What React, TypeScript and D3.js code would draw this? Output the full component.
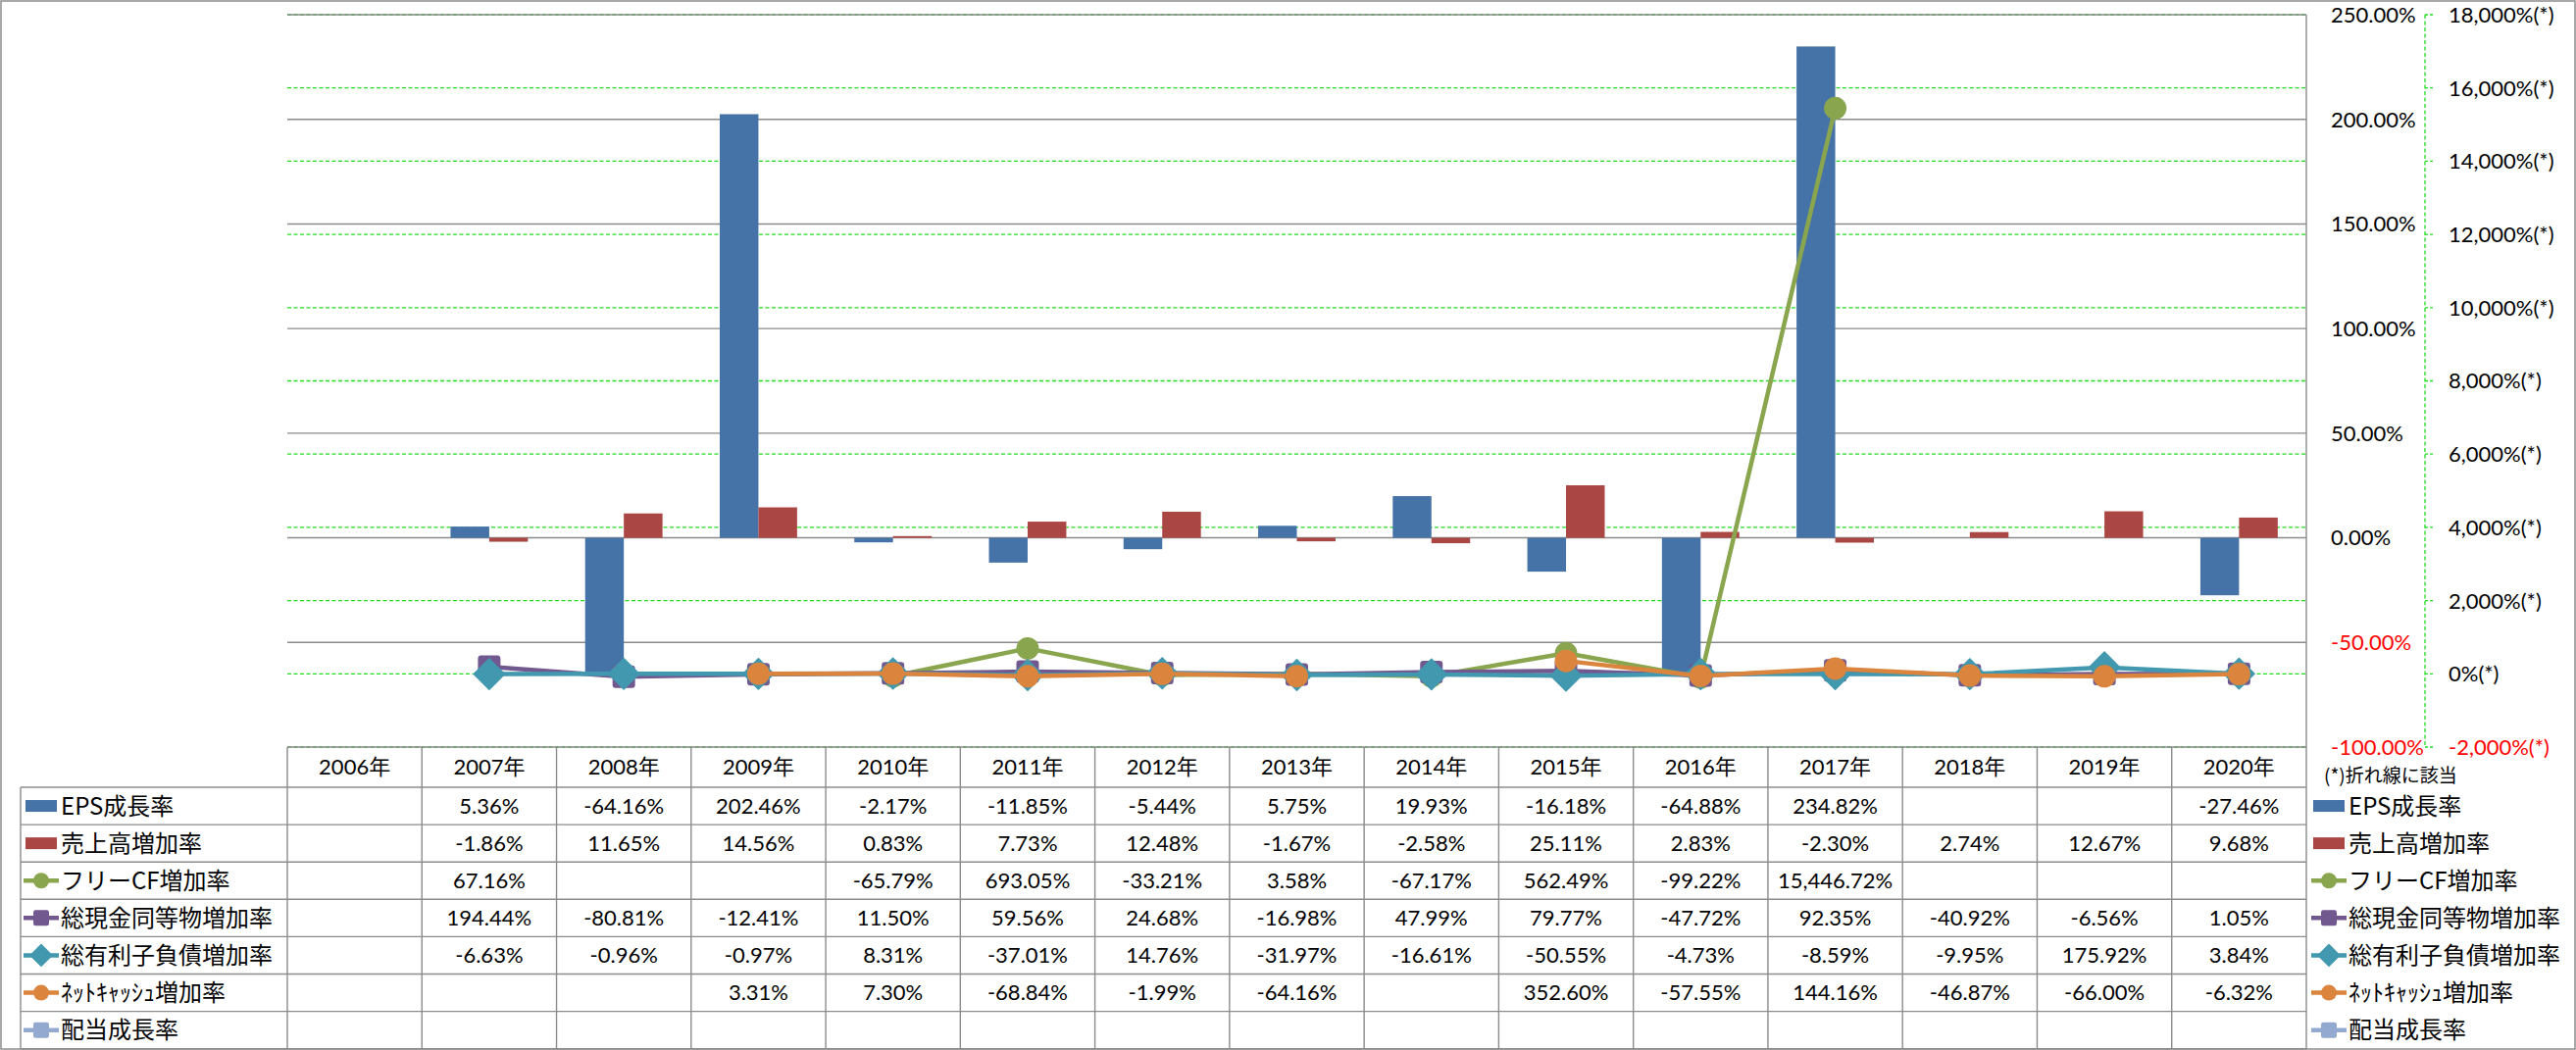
import React, { useRef, useEffect } from "react";
import * as d3 from "d3";

// categories
const years = [
  "2006年", "2007年", "2008年", "2009年", "2010年", "2011年", "2012年", "2013年",
  "2014年", "2015年", "2016年", "2017年", "2018年", "2019年", "2020年",
];

// bar series (left/primary axis, %)
const epsGrowth = [null, 5.36, -64.16, 202.46, -2.17, -11.85, -5.44, 5.75, 19.93, -16.18, -64.88, 234.82, null, null, -27.46];
const salesGrowth = [null, -1.86, 11.65, 14.56, 0.83, 7.73, 12.48, -1.67, -2.58, 25.11, 2.83, -2.3, 2.74, 12.67, 9.68];

// line series (secondary axis, %)
const fcfGrowth = [null, 67.16, null, null, -65.79, 693.05, -33.21, 3.58, -67.17, 562.49, -99.22, 15446.72, null, null, null];
const cashGrowth = [null, 194.44, -80.81, -12.41, 11.5, 59.56, 24.68, -16.98, 47.99, 79.77, -47.72, 92.35, -40.92, -6.56, 1.05];
const debtGrowth = [null, -6.63, -0.96, -0.97, 8.31, -37.01, 14.76, -31.97, -16.61, -50.55, -4.73, -8.59, -9.95, 175.92, 3.84];
const netCashGrowth = [null, null, null, 3.31, 7.3, -68.84, -1.99, -64.16, null, 352.6, -57.55, 144.16, -46.87, -66.0, -6.32];
const dividendGrowth = [null, null, null, null, null, null, null, null, null, null, null, null, null, null, null];

// axis ticks
const primaryTicks = [-100, -50, 0, 50, 100, 150, 200, 250];
const secondaryTicks = [-2000, 0, 2000, 4000, 6000, 8000, 10000, 12000, 14000, 16000, 18000];

const seriesNames = ["EPS成長率", "売上高増加率", "フリーCF増加率", "総現金同等物増加率", "総有利子負債増加率", "ﾈｯﾄｷｬｯｼｭ増加率", "配当成長率"];
const noteText = "(*)折れ線に該当";

type Kind = "bar" | "circle" | "square" | "diamond";

const FONT = "'Noto Sans CJK JP', 'Noto Sans', sans-serif";
const NUM_FONT = "Lato, 'Noto Sans CJK JP', sans-serif";

export default function App() {
  const svgRef = useRef<SVGSVGElement>(null);

  useEffect(() => {
    const width = 2627;
    const height = 1071;
    const svg = d3.select(svgRef.current);
    svg.selectAll("*").remove();

    const plot = { left: 293, right: 2352, top: 15, bottom: 762 };
    const headerBottom = 803;
    const rowH = 38.1;

    const series = [
      { name: seriesNames[0], values: epsGrowth, color: "#4572A7", kind: "bar" as Kind },
      { name: seriesNames[1], values: salesGrowth, color: "#AA4643", kind: "bar" as Kind },
      { name: seriesNames[2], values: fcfGrowth, color: "#89A54E", kind: "circle" as Kind },
      { name: seriesNames[3], values: cashGrowth, color: "#71588F", kind: "square" as Kind },
      { name: seriesNames[4], values: debtGrowth, color: "#4198AF", kind: "diamond" as Kind },
      { name: seriesNames[5], values: netCashGrowth, color: "#DB843D", kind: "circle" as Kind },
      { name: seriesNames[6], values: dividendGrowth, color: "#93A9CF", kind: "square" as Kind },
    ];

    const x = d3.scaleBand<string>().domain(years).range([plot.left, plot.right]);
    const xInner = d3.scaleBand<string>().domain(["eps", "sales"]).range([0, x.bandwidth()]).paddingOuter(0.74);
    const y = d3.scaleLinear().domain([-100, 250]).range([plot.bottom, plot.top]);
    const y2 = d3.scaleLinear().domain([-2000, 18000]).range([plot.bottom, plot.top]);

    const loc = d3.formatLocale({ decimal: ".", thousands: ",", grouping: [3], currency: ["", ""], minus: "-" });
    const fmtCell = loc.format(",.2f");
    const fmtPrimary = loc.format(".2f");
    const fmtSecondary = loc.format(",.0f");

    svg.attr("viewBox", `0 0 ${width} ${height}`);

    svg.append("rect").attr("width", width).attr("height", height).attr("fill", "#fff");
    svg.append("rect")
      .attr("x", 1).attr("y", 1).attr("width", width - 2).attr("height", height - 2)
      .attr("fill", "none").attr("stroke", "#8c8c8c").attr("stroke-width", 1.5);

    // secondary gridlines (green dashed)
    svg.append("g").selectAll("line").data(secondaryTicks).join("line")
      .attr("x1", plot.left).attr("x2", plot.right)
      .attr("y1", d => y2(d)).attr("y2", d => y2(d))
      .attr("stroke", "#22dd22").attr("stroke-width", 1.3).attr("stroke-dasharray", "4,2.5");

    // primary gridlines
    svg.append("g").selectAll("line").data(primaryTicks).join("line")
      .attr("x1", plot.left).attr("x2", plot.right)
      .attr("y1", d => y(d)).attr("y2", d => y(d))
      .attr("stroke", "#8a8a8a").attr("stroke-width", 1.4);

    // bars
    const barKeys = ["eps", "sales"];
    series.filter(s => s.kind === "bar").forEach((s, si) => {
      svg.append("g").selectAll("rect")
        .data(years.map((yr, i) => ({ yr, v: s.values[i] })).filter(d => d.v != null))
        .join("rect")
        .attr("x", d => (x(d.yr) as number) + (xInner(barKeys[si]) as number))
        .attr("width", xInner.bandwidth())
        .attr("y", d => y(Math.max(0, d.v as number)))
        .attr("height", d => Math.abs(y(d.v as number) - y(0)))
        .attr("fill", s.color);
    });

    const cx = (yr: string) => (x(yr) as number) + x.bandwidth() / 2;

    const drawMarker = (g: any, kind: Kind, px: number, py: number, size: number, color: string) => {
      if (kind === "circle") {
        g.append("circle").attr("cx", px).attr("cy", py).attr("r", size / 2).attr("fill", color);
      } else if (kind === "square") {
        g.append("rect").attr("x", px - size / 2).attr("y", py - size / 2)
          .attr("width", size).attr("height", size).attr("rx", size * 0.14).attr("fill", color);
      } else if (kind === "diamond") {
        const h = size * 0.68;
        g.append("path")
          .attr("d", `M${px},${py - h}L${px + h},${py}L${px},${py + h}L${px - h},${py}Z`)
          .attr("fill", color).attr("stroke", color).attr("stroke-width", 1.5).attr("stroke-linejoin", "round");
      }
    };

    // lines
    series.filter(s => s.kind !== "bar").forEach(s => {
      const pts = years.map((yr, i) => ({ yr, v: s.values[i] }));
      const line = d3.line<{ yr: string; v: number | null }>()
        .defined(d => d.v != null)
        .x(d => cx(d.yr))
        .y(d => y2(d.v as number));
      const g = svg.append("g");
      g.append("path").datum(pts).attr("d", line)
        .attr("fill", "none").attr("stroke", s.color).attr("stroke-width", 4.5)
        .attr("stroke-linejoin", "round");
      pts.filter(d => d.v != null).forEach(d => drawMarker(g, s.kind, cx(d.yr), y2(d.v as number), 23, s.color));
    });

    // secondary axis line
    svg.append("line").attr("x1", 2473).attr("x2", 2473).attr("y1", plot.top).attr("y2", plot.bottom)
      .attr("stroke", "#22dd22").attr("stroke-width", 1.3).attr("stroke-dasharray", "4,2.5");
    svg.append("g").selectAll("line").data(secondaryTicks).join("line")
      .attr("x1", 2473).attr("x2", 2481).attr("y1", d => y2(d)).attr("y2", d => y2(d))
      .attr("stroke", "#22dd22").attr("stroke-width", 1.3).attr("stroke-dasharray", "3,2");

    // axis labels
    svg.append("g").selectAll("text").data(primaryTicks).join("text")
      .attr("x", 2377).attr("y", d => y(d)).attr("dy", "0.36em")
      .attr("font-family", NUM_FONT).attr("font-size", 22)
      .attr("fill", d => (d < 0 ? "#ff0000" : "#000"))
      .text(d => fmtPrimary(d) + "%");
    svg.append("g").selectAll("text").data(secondaryTicks).join("text")
      .attr("x", 2497).attr("y", d => y2(d)).attr("dy", "0.36em")
      .attr("font-family", NUM_FONT).attr("font-size", 22)
      .attr("fill", d => (d < 0 ? "#ff0000" : "#000"))
      .text(d => fmtSecondary(d) + "%(*)");

    // data table
    const tbl = svg.append("g");
    const tableBottom = headerBottom + rowH * series.length;
    const gridColor = "#8c8c8c";
    const colEdges = years.map(yr => x(yr) as number).concat([plot.right]);
    tbl.selectAll("line.v").data(colEdges).join("line")
      .attr("x1", d => d).attr("x2", d => d).attr("y1", plot.bottom).attr("y2", tableBottom)
      .attr("stroke", gridColor).attr("stroke-width", 1.4);
    tbl.append("line").attr("x1", plot.right).attr("x2", plot.right).attr("y1", plot.top).attr("y2", plot.bottom)
      .attr("stroke", gridColor).attr("stroke-width", 1.4);
    tbl.append("line").attr("x1", 21).attr("x2", 21).attr("y1", headerBottom).attr("y2", tableBottom)
      .attr("stroke", gridColor).attr("stroke-width", 1.4);
    const rowEdges = d3.range(series.length + 1).map(i => headerBottom + i * rowH);
    tbl.selectAll("line.h").data(rowEdges).join("line")
      .attr("x1", 21).attr("x2", plot.right).attr("y1", d => d).attr("y2", d => d)
      .attr("stroke", gridColor).attr("stroke-width", 1.4);

    // header
    tbl.append("g").selectAll("text").data(years).join("text")
      .attr("x", d => cx(d)).attr("y", (plot.bottom + headerBottom) / 2).attr("dy", "0.36em")
      .attr("text-anchor", "middle").attr("font-family", NUM_FONT).attr("font-size", 22).attr("fill", "#000")
      .text(d => d);

    const legendKey = (g: any, s: any, lx: number, ly: number) => {
      if (s.kind === "bar") {
        g.append("rect").attr("x", lx).attr("y", ly - 6).attr("width", 32).attr("height", 12).attr("fill", s.color);
      } else {
        g.append("line").attr("x1", lx - 2).attr("x2", lx + 34).attr("y1", ly).attr("y2", ly)
          .attr("stroke", s.color).attr("stroke-width", 4.5);
        drawMarker(g, s.kind, lx + 16, ly, 16, s.color);
      }
    };

    series.forEach((s, r) => {
      const cy = headerBottom + r * rowH + rowH / 2;
      // row label
      legendKey(tbl, s, 26, cy);
      tbl.append("text").attr("x", 62).attr("y", cy).attr("dy", "0.36em")
        .attr("font-family", FONT).attr("font-size", 24).attr("fill", "#000").text(s.name);
      // values
      tbl.append("g").selectAll("text")
        .data(years.map((yr, i) => ({ yr, v: s.values[i] })).filter(d => d.v != null))
        .join("text")
        .attr("x", d => cx(d.yr)).attr("y", cy).attr("dy", "0.36em")
        .attr("text-anchor", "middle").attr("font-family", NUM_FONT).attr("font-size", 22).attr("fill", "#000")
        .text(d => fmtCell(d.v as number) + "%");
      // right legend
      legendKey(svg, s, 2359, cy);
      svg.append("text").attr("x", 2395).attr("y", cy).attr("dy", "0.36em")
        .attr("font-family", FONT).attr("font-size", 24).attr("fill", "#000").text(s.name);
    });

    svg.append("text").attr("x", 2370).attr("y", 791).attr("dy", "0.36em")
      .attr("font-family", FONT).attr("font-size", 19).attr("fill", "#000").text(noteText);
  }, []);

  return (
    <svg
      ref={svgRef}
      width={2627}
      height={1071}
      style={{ position: "absolute", left: 0, top: 0, display: "block" }}
    />
  );
}
